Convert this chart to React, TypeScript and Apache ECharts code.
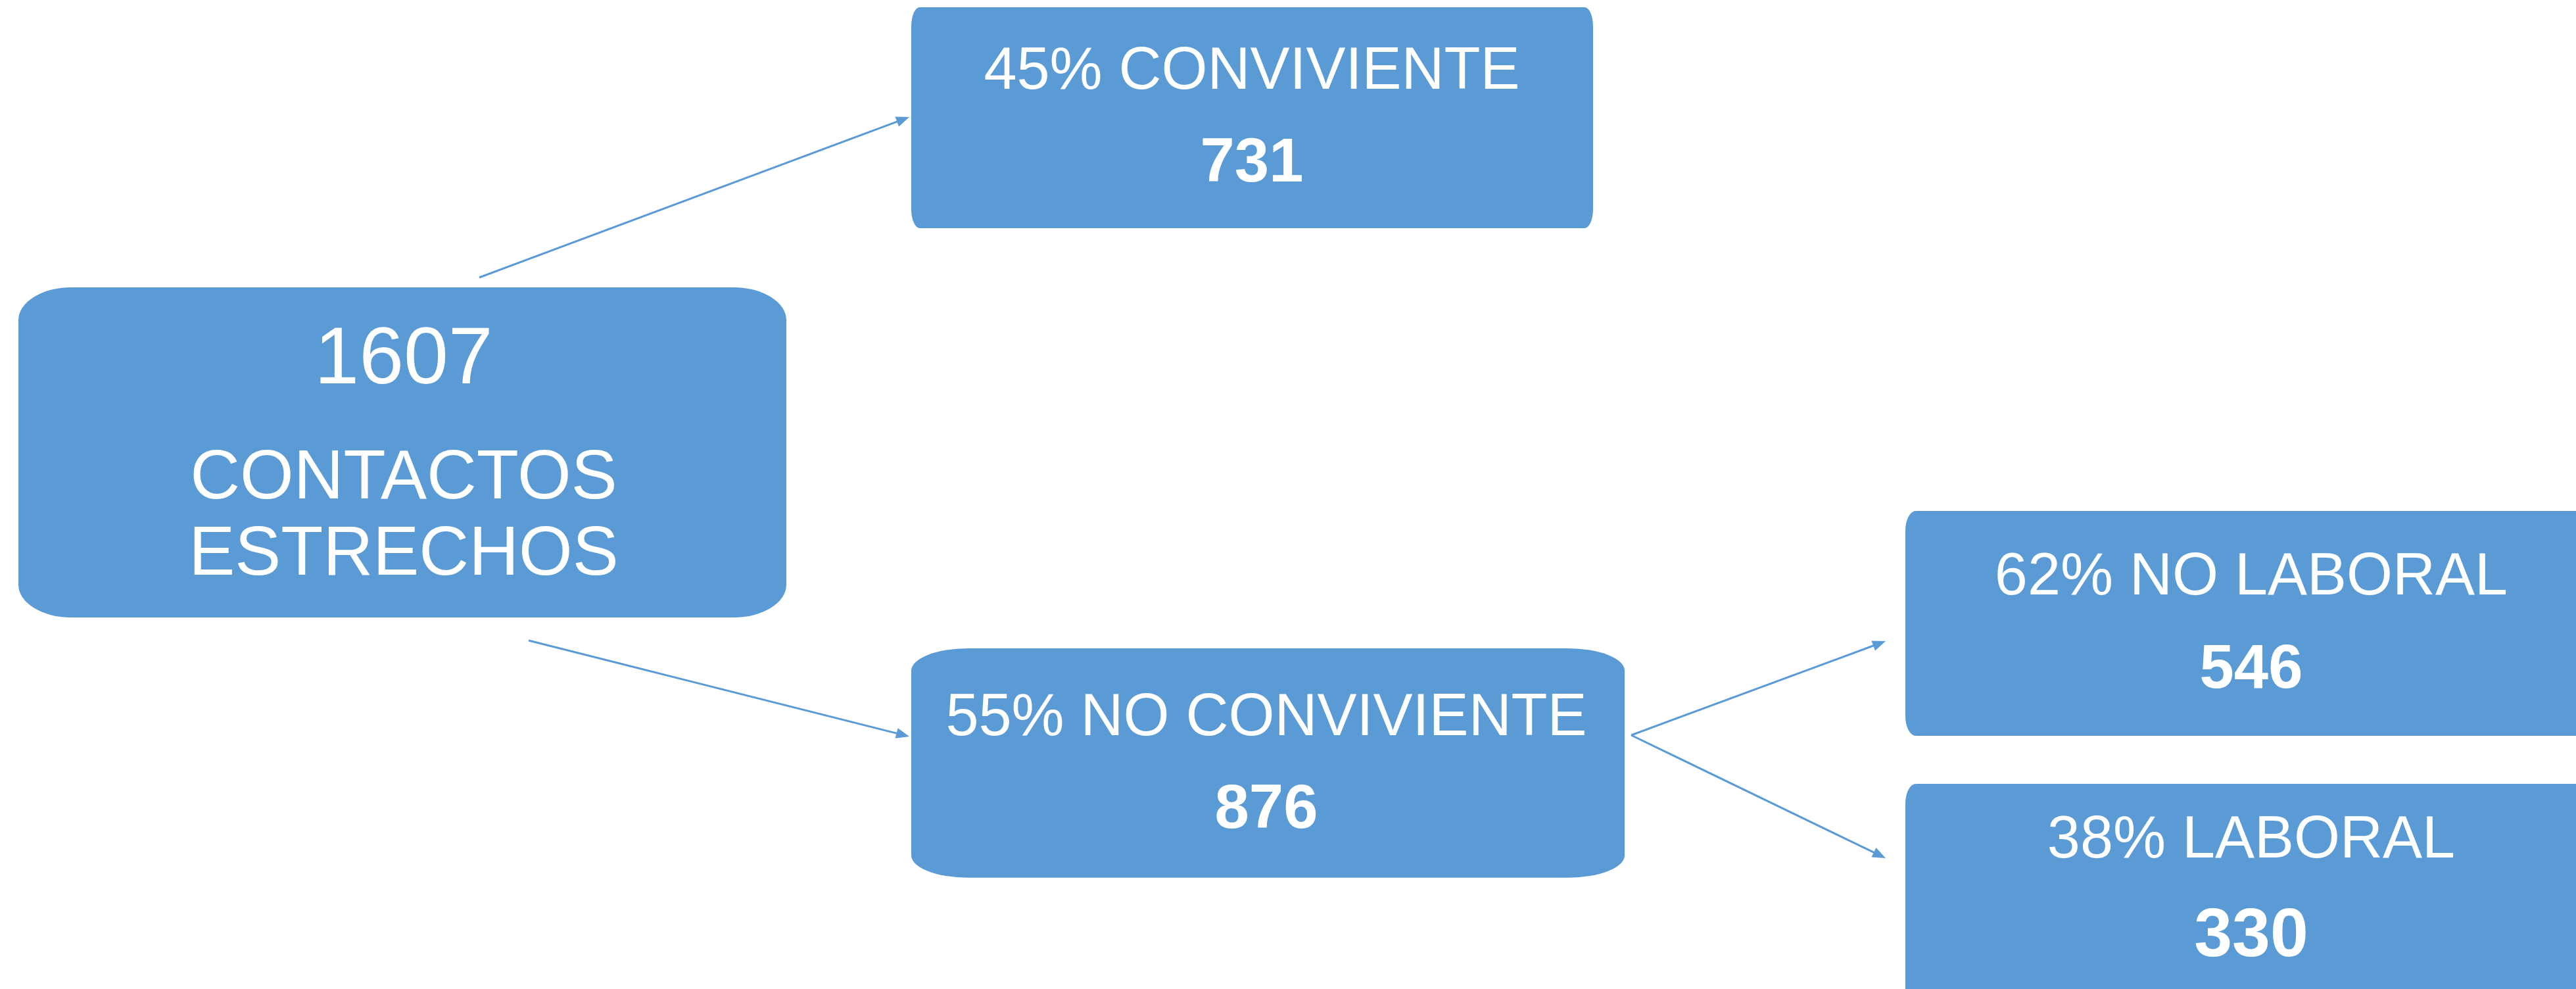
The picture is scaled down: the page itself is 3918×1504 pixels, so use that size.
import React, { useEffect, useRef } from "react";
import * as echarts from "echarts";

// ---- data ----
const nodeTitles = ["CONTACTOS\nESTRECHOS", "CONVIVIENTE", "NO CONVIVIENTE", "NO LABORAL", "LABORAL"];
const nodePercents = [null, 45, 55, 62, 38];
const nodeCounts = [1607, 731, 876, 546, 330];
const links = [
  [0, 1],
  [0, 2],
  [2, 3],
  [2, 4],
];

// ---- layout (positions / sizes) ----
// [x, y, w, h, rx, ry]
const boxLayout = [
  [28, 437, 1168, 502, 80, 50],
  [1386, 11, 1037, 336, 13, 29],
  [1386, 986, 1085, 349, 86, 34],
  [2898, 777, 1054, 342, 16, 30],
  [2898, 1192, 1054, 360, 16, 30],
];
// [cx, titleY, countY, titleSize, countSize]
const textLayout = [
  [614, 0, 541, 105, 122],
  [1904, 104, 243, 90, 94],
  [1926, 1087, 1226, 90, 94],
  [3424, 873, 1013, 90, 94],
  [3424, 1273, 1418, 90, 104],
];
// arrow [x0, y0, x1, y1] per link
const arrowLayout = [
  [729, 422, 1383, 178],
  [804, 974, 1383, 1120],
  [2481, 1118, 2868, 975],
  [2481, 1118, 2868, 1305],
];

const BLUE = "#5B9BD5";
const FONT = "Liberation Sans, Arial, sans-serif";

function buildGraphics() {
  const els: any[] = [];
  nodeCounts.forEach((count, i) => {
    const [x, y, w, h, rx, ry] = boxLayout[i];
    const sy = ry / rx;
    els.push({
      type: "group",
      x,
      y,
      scaleY: sy,
      children: [
        {
          type: "rect",
          shape: { x: 0, y: 0, width: w, height: h / sy, r: rx },
          style: { fill: BLUE },
        },
      ],
    });
    const [cx, ty, cy, ts, cs] = textLayout[i];
    if (nodePercents[i] === null) {
      els.push({
        type: "text",
        x: cx,
        y: cy,
        style: {
          text: String(count),
          fill: "#fff",
          fontSize: cs,
          fontFamily: FONT,
          align: "center",
          verticalAlign: "middle",
        },
      });
      const lines = nodeTitles[i].split("\n");
      lines.forEach((ln, k) => {
        els.push({
          type: "text",
          x: cx,
          y: 721 + k * 116,
          style: {
            text: ln,
            fill: "#fff",
            fontSize: ts,
            fontFamily: FONT,
            align: "center",
            verticalAlign: "middle",
          },
        });
      });
    } else {
      els.push({
        type: "text",
        x: cx,
        y: ty,
        style: {
          text: `${nodePercents[i]}% ${nodeTitles[i]}`,
          fill: "#fff",
          fontSize: ts,
          fontFamily: FONT,
          align: "center",
          verticalAlign: "middle",
        },
      });
      els.push({
        type: "text",
        x: cx,
        y: cy,
        style: {
          text: String(count),
          fill: "#fff",
          fontSize: cs,
          fontWeight: "bold",
          fontFamily: FONT,
          align: "center",
          verticalAlign: "middle",
        },
      });
    }
  });

  links.forEach((lk, i) => {
    const [x0, y0, x1, y1] = arrowLayout[i];
    const dx = x1 - x0;
    const dy = y1 - y0;
    const len = Math.sqrt(dx * dx + dy * dy);
    const ux = dx / len;
    const uy = dy / len;
    const headL = 20;
    const headW = 8;
    const bx = x1 - ux * headL;
    const by = y1 - uy * headL;
    els.push({
      type: "line",
      shape: { x1: x0, y1: y0, x2: bx + ux * 2, y2: by + uy * 2 },
      style: { stroke: BLUE, lineWidth: 3 },
    });
    els.push({
      type: "polygon",
      shape: {
        points: [
          [x1, y1],
          [bx - uy * headW, by + ux * headW],
          [bx + uy * headW, by - ux * headW],
        ],
      },
      style: { fill: BLUE },
    });
  });
  return els;
}

export default function App() {
  const ref = useRef<HTMLDivElement>(null);
  useEffect(() => {
    document.body.style.margin = "0";
    const chart = echarts.init(ref.current!, null, { renderer: "svg" });
    chart.setOption({
      animation: false,
      backgroundColor: "#ffffff",
      graphic: { elements: buildGraphics() },
    });
    return () => chart.dispose();
  }, []);
  return <div ref={ref} style={{ width: 3918, height: 1504 }} />;
}
